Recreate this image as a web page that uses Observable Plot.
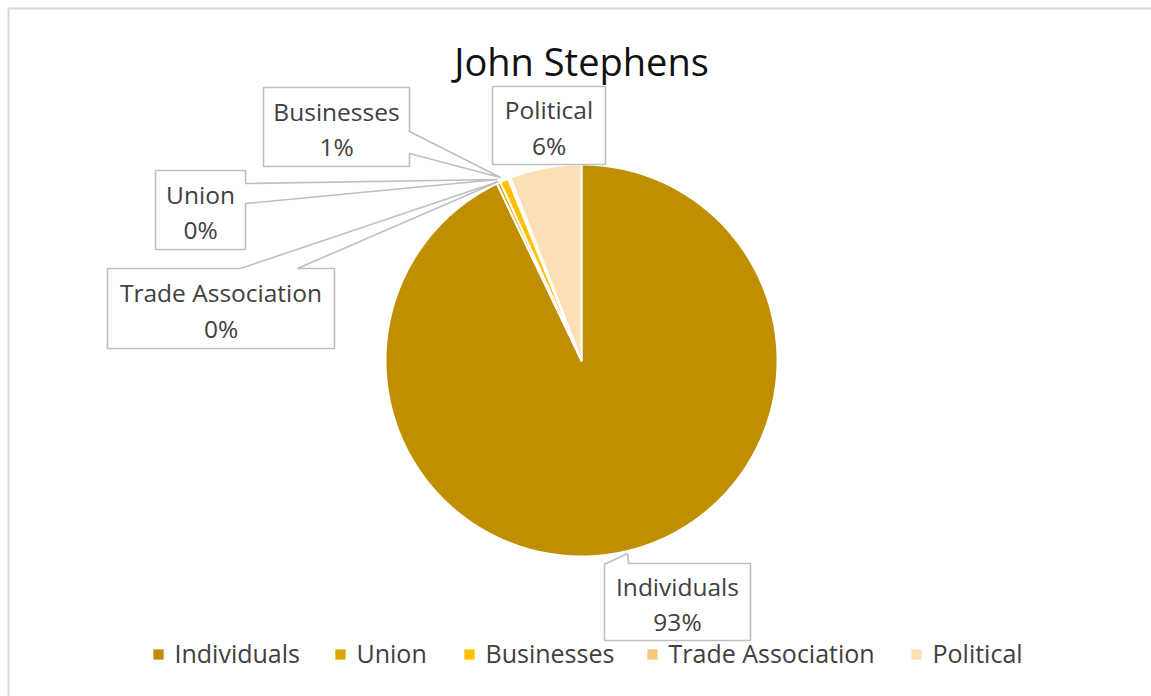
<!DOCTYPE html>
<html>
<head>
<meta charset="utf-8">
<script src="https://cdn.jsdelivr.net/npm/d3@7"></script>
<script src="https://cdn.jsdelivr.net/npm/@observablehq/plot@0.6"></script>
<style>
  html, body { margin: 0; padding: 0; background: #fff; }
  #chart { width: 1151px; height: 696px; }
</style>
</head>
<body>
<div id="chart"></div>
<script>
// ---- data ----
const categories = ["Individuals", "Union", "Businesses", "Trade Association", "Political"];
const shares = [92.9, 0.3, 0.7, 0.2, 5.9];
const colors = ["#BF8F00", "#DEA500", "#FFC000", "#F9C77D", "#FDDFB6"];
const title = "John Stephens";

// ---- layout (pixel space) ----
const W = 1151, H = 696;
const pie = {cx: 581, cy: 360, r: 196};
const FONT = "'Open Sans', Lato, sans-serif";
const callouts = {
  "Individuals":       {box: [604, 563, 750, 640], side: "top",   a: 606, b: 628, tip: [627, 553]},
  "Union":             {box: [155, 170, 245, 249], side: "right", a: 183, b: 203, tip: [497, 179]},
  "Businesses":        {box: [263, 87, 409, 166],  side: "right", a: 131, b: 153, tip: [500, 177]},
  "Trade Association": {box: [107, 268, 334, 348], side: "top",   a: 240, b: 297, tip: [498, 181]},
  "Political":         {box: [492, 86, 605, 164],  side: null}
};
const legendX = [158, 340, 469, 652, 916];
const legendY = 654;

// ---- build slices ----
const rows = categories.map((c, i) => ({name: c, value: shares[i], color: colors[i]}));
const arcs = d3.pie().sort(null).value(d => d.value)(rows);
const slicePts = [];
arcs.forEach(a => {
  const n = Math.max(2, Math.ceil((a.endAngle - a.startAngle) / (Math.PI / 360)));
  slicePts.push({name: a.data.name, color: a.data.color, x: pie.cx, y: pie.cy});
  for (let k = 0; k <= n; k++) {
    const t = a.startAngle + (a.endAngle - a.startAngle) * k / n;
    slicePts.push({name: a.data.name, color: a.data.color, x: pie.cx + pie.r * Math.sin(t), y: pie.cy - pie.r * Math.cos(t)});
  }
  slicePts.push({name: a.data.name, color: a.data.color, x: pie.cx, y: pie.cy});
});

// ---- callout shapes ----
const calloutPts = [];
const labels = [];
rows.forEach(r => {
  const c = callouts[r.name];
  const [x1, y1, x2, y2] = c.box;
  const pts = [[x1, y1]];
  if (c.side === "top") pts.push([c.a, y1], c.tip, [c.b, y1]);
  pts.push([x2, y1]);
  if (c.side === "right") pts.push([x2, c.a], c.tip, [x2, c.b]);
  pts.push([x2, y2], [x1, y2], [x1, y1]);
  pts.forEach(p => calloutPts.push({name: r.name, x: p[0], y: p[1]}));
  labels.push({text: r.name + "\n" + Math.round(r.value) + "%", x: (x1 + x2) / 2, y: (y1 + y2) / 2});
});

const legend = rows.map((r, i) => ({name: r.name, color: r.color, x: legendX[i], y: legendY}));

const chart = Plot.plot({
  width: W, height: H,
  margin: 0,
  x: {domain: [0, W], range: [0, W], axis: null},
  y: {domain: [0, H], range: [0, H], axis: null},
  color: {type: "identity"},
  style: {fontFamily: FONT, background: "#fff"},
  marks: [
    Plot.ruleX([8], {y1: 8, y2: H, stroke: "#d9d9d9", strokeWidth: 2}),
    Plot.ruleY([8], {x1: 8, x2: W, stroke: "#d9d9d9", strokeWidth: 2}),
    Plot.text([title], {x: pie.cx, y: 63, text: d => d, fontSize: 38, fill: "#111", fontFamily: FONT}),
    Plot.line(slicePts, {x: "x", y: "y", z: "name", fill: "color", stroke: "#fff", strokeWidth: 2, strokeLinejoin: "round"}),
    Plot.line(calloutPts, {x: "x", y: "y", z: "name", fill: "#fff", stroke: "#bfbfbf", strokeWidth: 1.6, strokeLinejoin: "miter"}),
    Plot.text(labels, {x: "x", y: "y", text: "text", fontSize: 24.5, lineHeight: 1.45, fill: "#404040", fontFamily: FONT}),
    Plot.dot(legend, {x: "x", y: "y", symbol: "square", r: 5.8, fill: "color", stroke: null}),
    Plot.text(legend, {x: "x", y: "y", text: "name", dx: 16, textAnchor: "start", fontSize: 25, fill: "#404040", fontFamily: FONT})
  ]
});
document.getElementById("chart").appendChild(chart);
</script>
</body>
</html>
